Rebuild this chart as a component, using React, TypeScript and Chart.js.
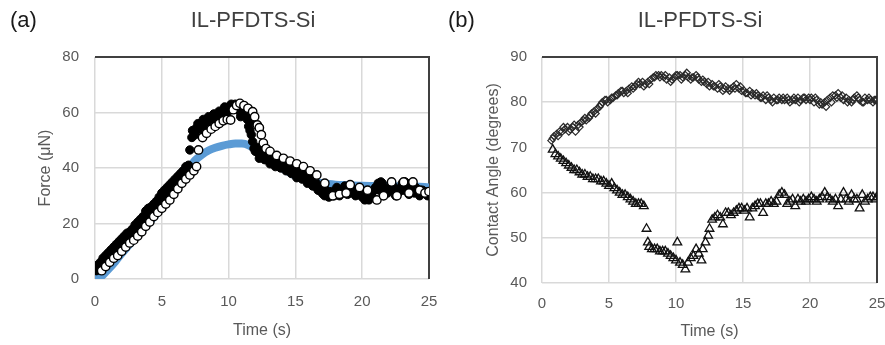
import React, { useEffect, useRef } from "react";
import { Chart, registerables } from "chart.js";

Chart.register(...registerables);

const FONT = '"Liberation Sans", Arial, Helvetica, sans-serif';
const TEXT_GREY = "#595959";
const GRID = "#d9d9d9";

// ---------- Panel (a): Force vs Time ----------
const timeTicks = [0, 5, 10, 15, 20, 25];

const modelTime = [0, 0.25, 0.5, 1, 1.5, 2, 2.5, 3, 3.5, 4, 4.5, 5, 5.5, 6, 6.5, 7, 7.5, 8, 8.5, 9, 9.5, 10, 10.5, 11, 11.5, 12, 12.5, 13, 13.5, 14, 14.5, 15, 15.5, 16, 16.5, 17, 17.5, 18, 19, 20, 21, 22, 23, 24, 25];
const modelForce = [0, 0.3, 1.0, 3.5, 6.2, 9.2, 12.0, 14.8, 17.5, 20.2, 22.9, 25.9, 29.0, 32.4, 36.0, 39.6, 42.8, 44.8, 46.3, 47.3, 48.0, 48.5, 48.8, 48.8, 48.2, 46.8, 45.0, 43.0, 41.5, 40.0, 38.5, 37.2, 36.3, 35.5, 35.0, 34.5, 34.2, 34.0, 33.8, 33.6, 33.5, 33.5, 33.3, 33.3, 33.0];

const filledTime = [
  0.1, 0.3, 0.5, 0.7, 0.9, 1.1, 1.3, 1.5, 1.7, 1.9, 2.1, 2.3, 2.5, 2.7, 2.9, 3.1, 3.3, 3.5, 3.7, 3.9, 4.1, 4.3, 4.5, 4.7, 4.9, 5.1, 5.3, 5.5, 5.7, 5.9, 6.1, 6.3, 6.5, 6.7, 6.9, 7.0,
  7.1, 7.25, 7.4, 7.6, 7.8, 8.0, 8.2, 8.4, 8.6, 8.8, 9.0, 9.2, 9.4, 9.6, 9.8, 10.0, 10.2, 10.4, 10.6, 10.8, 11.0, 11.2, 11.4, 11.5, 11.6, 11.7, 11.8, 11.9, 12.0, 12.2, 12.4, 12.6, 12.8, 13.0,
  13.2, 13.4, 13.6, 13.8, 14.0, 14.2, 14.4, 14.6, 14.8, 15.0, 15.2, 15.4, 15.6, 15.8, 16.0, 16.2, 16.4, 16.6, 16.8, 17.0, 17.2, 17.4, 17.6, 17.8, 18.0, 18.2, 18.4, 18.6, 18.8, 19.0,
  19.2, 19.4, 19.6, 19.8, 20.0, 20.2, 20.4, 20.6, 20.8, 21.0, 21.2, 21.4, 21.6, 21.8, 22.0, 22.2, 22.4, 22.6, 22.8, 23.0, 23.2, 23.4, 23.6, 23.8, 24.0, 24.2, 24.4, 24.6, 24.8, 25.0,
];
const filledForce = [
  3.0, 4.0, 5.0, 6.5, 7.5, 8.5, 9.5, 10.5, 11.5, 12.5, 13.5, 14.5, 15.5, 16.5, 17.5, 18.5, 19.5, 20.5, 22.5, 23.0, 24.0, 25.0, 26.5, 27.5, 28.5, 30.0, 31.0, 32.0, 33.0, 34.5, 35.5, 36.5, 37.5, 38.5, 40.0, 41.0,
  46.5, 51.0, 53.0, 54.5, 55.5, 56.0, 56.5, 57.0, 57.5, 58.0, 58.5, 59.0, 60.0, 60.5, 61.5, 62.0, 63.0, 62.5, 61.5, 60.5, 59.5, 59.0, 57.5, 55.0, 53.5, 52.0, 49.5, 47.0, 46.0, 45.5, 45.0, 44.0, 43.5, 43.0,
  42.5, 42.0, 41.5, 41.0, 41.0, 40.5, 40.0, 39.5, 39.0, 38.0, 37.5, 37.0, 36.5, 36.0, 35.5, 35.0, 34.0, 33.0, 32.0, 31.0, 30.0, 30.5, 30.0, 31.0, 31.5, 30.5, 32.0, 31.5, 31.0, 32.5,
  33.0, 31.5, 31.0, 30.5, 29.5, 28.5, 29.0, 30.5, 31.5, 33.0, 34.5, 35.0, 33.0, 31.5, 32.5, 34.0, 31.5, 31.0, 32.5, 34.5, 35.0, 33.0, 31.5, 32.0, 33.0, 32.0, 31.0, 31.5, 30.5, 31.0,
];
// second pass of filled points (the scatter that makes the black band thick)
const filledTime2 = [
  0.2, 0.4, 0.6, 0.8, 1.0, 1.2, 1.4, 1.6, 1.8, 2.0, 2.2, 2.4, 2.6, 2.8, 3.0, 3.2, 3.4, 3.6, 3.8, 4.0, 4.2, 4.4, 4.6, 4.8, 5.0, 5.2, 5.4, 5.6, 5.8, 6.0, 6.2, 6.4, 6.6, 6.8,
  7.3, 7.5, 7.7, 7.9, 8.1, 8.3, 8.5, 8.7, 8.9, 9.1, 9.3, 9.5, 9.7, 9.9, 10.1, 10.3, 10.5, 10.7, 10.9, 11.1, 11.3, 11.5, 11.7,
  12.1, 12.3, 12.5, 12.7, 12.9, 13.1, 13.3, 13.5, 13.7, 13.9, 14.1, 14.3, 14.5, 14.7, 14.9, 15.1, 15.3, 15.5, 15.7, 15.9, 16.1, 16.3, 16.5, 16.7, 16.9, 17.1, 17.3, 17.5, 17.7, 17.9,
  18.1, 18.3, 18.5, 18.7, 18.9, 19.1, 19.3, 19.5, 19.7, 19.9, 20.1, 20.3, 20.5, 20.7, 20.9, 21.1, 21.3, 21.5, 21.7, 21.9, 22.1, 22.3, 22.5, 22.7, 22.9, 23.1, 23.3, 23.5, 23.7, 23.9,
  24.1, 24.3, 24.5, 24.7, 24.9,
];
const filledForce2 = [
  5.0, 6.0, 7.5, 8.5, 9.5, 10.5, 11.5, 12.5, 13.5, 14.5, 15.5, 16.5, 17.0, 18.0, 19.5, 20.5, 21.5, 22.5, 24.5, 25.5, 26.0, 27.0, 28.0, 29.5, 31.0, 32.0, 33.0, 34.0, 35.0, 36.0, 37.0, 38.0, 39.0, 40.5,
  53.5, 52.0, 56.0, 54.0, 57.5, 55.5, 58.5, 56.5, 59.5, 57.5, 60.5, 59.0, 62.0, 60.0, 61.0, 61.5, 63.0, 62.0, 58.5, 60.5, 59.5, 58.5, 57.0,
  47.5, 43.5, 46.0, 43.0, 44.5, 41.5, 43.0, 40.5, 42.5, 40.0, 42.0, 39.0, 41.0, 38.0, 40.5, 36.5, 39.0, 36.0, 37.5, 34.5, 36.5, 33.5, 35.0, 32.0, 33.5, 30.5, 32.0, 29.5, 31.5, 30.0,
  33.0, 30.0, 31.0, 33.5, 30.5, 31.0, 32.0, 30.0, 32.5, 31.5, 30.0, 30.5, 28.5, 30.0, 32.0, 33.0, 32.0, 34.5, 30.5, 31.0, 32.5, 33.5, 30.0, 31.0, 33.0, 32.0, 34.5, 30.5, 33.5, 31.0,
  32.5, 30.0, 32.0, 31.5, 30.0,
];

const openTime = [
  0.5, 0.8, 1.1, 1.4, 1.7, 2.0, 2.3, 2.6, 2.9, 3.2, 3.5, 3.8, 4.1, 4.4, 4.7, 5.0, 5.3, 5.6, 5.9, 6.2, 6.5, 6.8, 7.1, 7.4, 7.6,
  7.75, 8.05, 8.35, 8.7, 9.0, 9.3, 9.6, 9.9, 10.15, 10.35, 10.6, 10.85, 11.15, 11.45, 11.8, 11.95, 12.15, 12.3, 12.45, 12.6, 12.8,
  13.1, 13.6, 14.1, 14.6, 15.1, 15.6, 16.1, 16.6, 17.2, 17.8, 18.3, 18.8, 19.1, 19.8, 20.4, 21.1, 21.6, 22.2, 22.6, 23.1, 23.5, 23.8, 24.3, 24.7, 25.0,
];
const openForce = [
  3.0, 4.5, 6.0, 7.5, 8.5, 10.0, 11.5, 13.0, 14.0, 15.5, 17.0, 19.0, 20.5, 22.5, 24.0, 25.5, 27.0, 28.5, 30.5, 32.5, 34.5, 36.0, 37.5, 39.0, 40.5,
  46.5, 51.0, 52.5, 54.0, 55.0, 56.0, 57.0, 57.5, 57.3, 61.0, 62.5, 63.3, 62.5, 61.5, 60.3, 58.5, 55.5, 54.5, 52.0, 49.0, 47.0,
  46.0, 44.5, 43.5, 42.5, 41.5, 40.5, 39.0, 37.5, 34.5, 30.0, 30.5, 31.0, 34.0, 33.0, 32.0, 28.5, 30.0, 35.0, 30.0, 35.0, 31.0, 35.0, 32.0, 31.0, 31.5,
];

// ---------- Panel (b): Contact angle vs Time ----------
const diamondTime = [
  0.7, 0.9, 1.1, 1.3, 1.5, 1.7, 1.9, 2.1, 2.3, 2.5, 2.7, 2.9, 3.1, 3.3, 3.5, 3.7, 3.9, 4.1, 4.3, 4.5, 4.7, 4.9, 5.1, 5.3, 5.5, 5.7, 5.9, 6.1, 6.3, 6.5, 6.7, 6.9, 7.1, 7.3, 7.5, 7.7, 7.9, 8.1, 8.3, 8.5, 8.7, 8.9,
  9.1, 9.3, 9.5, 9.7, 9.9, 10.1, 10.3, 10.5, 10.7, 10.9, 11.1, 11.3, 11.5, 11.7, 11.9, 12.1, 12.3, 12.5, 12.7, 12.9, 13.1, 13.3, 13.5, 13.7, 13.9, 14.1, 14.3, 14.5, 14.7, 14.9, 15.1, 15.3, 15.5, 15.7, 15.9,
  16.1, 16.3, 16.5, 16.7, 16.9, 17.1, 17.3, 17.5, 17.7, 17.9, 18.1, 18.3, 18.5, 18.7, 18.9, 19.1, 19.3, 19.5, 19.7, 19.9, 20.1, 20.3, 20.5, 20.7, 20.9, 21.1, 21.3, 21.5, 21.7, 21.9, 22.1, 22.3, 22.5,
  22.7, 22.9, 23.1, 23.3, 23.5, 23.7, 23.9, 24.1, 24.3, 24.5, 24.7, 24.9, 25.0,
];
const diamondAngle = [
  71.5, 72.5, 73.0, 73.5, 73.5, 74.0, 74.5, 74.0, 74.5, 73.5, 75.0, 75.5, 76.0, 76.0, 76.5, 77.5, 78.0, 78.5, 79.0, 80.0, 80.5, 80.0, 80.5, 81.0, 81.5, 82.0, 82.5, 82.0, 82.5, 83.0, 83.5, 83.5, 84.0, 84.0, 84.5, 84.0, 84.5, 85.0, 85.5, 86.0, 86.0, 86.0,
  85.5, 85.0, 85.5, 85.0, 85.5, 86.0, 86.0, 85.5, 86.0, 85.5, 85.0, 85.5, 86.0, 85.0, 84.5, 84.5, 84.0, 83.5, 84.0, 83.5, 83.0, 83.5, 82.5, 83.5, 83.0, 83.0, 83.5, 84.0, 83.0, 82.5, 82.5, 82.0, 82.5, 82.0, 81.5,
  81.5, 81.0, 81.5, 80.5, 81.0, 80.5, 81.0, 80.5, 81.0, 80.5, 80.5, 81.0, 80.0, 80.5, 80.5, 81.0, 80.5, 81.0, 80.5, 81.0, 81.0, 80.0, 80.5, 79.5, 79.5, 80.0, 80.5, 81.0, 81.5, 81.5, 82.0, 81.0, 80.5,
  81.0, 80.5, 80.0, 81.0, 81.5, 80.5, 80.0, 81.0, 80.5, 80.5, 80.0, 80.5, 80.5,
];
const diamondTime2 = [
  0.8, 1.2, 1.6, 2.0, 2.4, 2.8, 3.2, 3.6, 4.0, 4.4, 4.8, 5.2, 5.6, 6.0, 6.4, 6.8, 7.2, 7.6, 8.0, 8.4, 8.8, 9.2, 9.6, 10.0, 10.4, 10.8, 11.2, 11.6, 12.0, 12.4, 12.8,
  13.2, 13.6, 14.0, 14.4, 14.8, 15.2, 15.6, 16.0, 16.4, 16.8, 17.2, 17.6, 18.0, 18.4, 18.8, 19.2, 19.6, 20.0, 20.4, 20.8, 21.2, 21.6, 22.0, 22.4, 22.8, 23.2, 23.6, 24.0, 24.4, 24.8,
];
const diamondAngle2 = [
  72.0, 72.5, 74.5, 73.5, 75.0, 74.5, 76.5, 77.0, 77.5, 79.5, 80.5, 81.0, 81.5, 82.5, 82.0, 83.0, 84.5, 83.5, 84.0, 85.5, 85.5, 86.0, 84.5, 86.0, 85.0, 86.5, 85.5, 85.5, 85.0, 84.5, 83.5,
  84.0, 83.0, 82.5, 83.0, 83.5, 82.0, 81.5, 82.0, 81.0, 81.5, 80.0, 80.5, 81.0, 80.5, 81.0, 80.0, 81.0, 80.5, 81.0, 80.0, 79.0, 80.0, 81.0, 81.5, 80.0, 80.5, 81.0, 80.0, 81.0, 80.5,
];

const triangleTime = [
  0.8, 1.0, 1.2, 1.4, 1.6, 1.8, 2.0, 2.2, 2.4, 2.6, 2.8, 3.0, 3.2, 3.4, 3.6, 3.8, 4.0, 4.2, 4.4, 4.6, 4.8, 5.0, 5.2, 5.4, 5.6, 5.8, 6.0, 6.2, 6.4, 6.6, 6.8, 7.0, 7.2, 7.4, 7.6,
  7.8, 7.9, 8.0, 8.2, 8.4, 8.6, 8.8, 9.0, 9.2, 9.4, 9.6, 9.8, 10.0, 10.1, 10.3, 10.5, 10.7, 10.9, 11.1, 11.3, 11.5, 11.7, 11.9, 12.0, 12.2, 12.4, 12.5, 12.7, 12.9,
  13.1, 13.3, 13.5, 13.7, 13.9, 14.1, 14.3, 14.5, 14.7, 14.9, 15.1, 15.3, 15.5, 15.7, 15.9, 16.1, 16.3, 16.5, 16.7, 16.9, 17.1, 17.3, 17.5, 17.7, 17.9, 18.1, 18.3, 18.5, 18.7, 18.9,
  19.1, 19.3, 19.5, 19.7, 19.9, 20.1, 20.3, 20.5, 20.7, 20.9, 21.1, 21.3, 21.5, 21.7, 21.9, 22.1, 22.3, 22.5, 22.7, 22.9, 23.1, 23.3, 23.5, 23.7, 23.9, 24.1, 24.3, 24.5, 24.7, 24.9, 25.0,
];
const triangleAngle = [
  69.5, 68.5, 68.0, 67.5, 67.0, 66.5, 66.0, 65.5, 65.0, 65.0, 64.5, 64.0, 64.0, 63.5, 63.5, 63.0, 63.0, 63.0, 62.5, 62.5, 62.0, 61.5, 62.0, 61.0, 60.5, 60.0, 59.5, 59.5, 59.0, 58.5, 58.0, 57.5, 57.5, 57.5, 57.0,
  52.0, 49.0, 48.0, 47.5, 47.5, 47.5, 47.0, 47.0, 47.0, 46.5, 46.0, 45.5, 45.0, 49.0, 44.5, 44.0, 43.0, 44.5, 45.5, 46.0, 47.5, 46.5, 45.0, 47.5, 49.0, 50.5, 52.0, 54.0, 54.5,
  55.0, 54.5, 53.0, 55.5, 55.5, 55.0, 55.5, 56.0, 56.5, 56.5, 56.0, 56.5, 54.5, 56.5, 57.0, 57.5, 57.5, 55.5, 57.5, 57.5, 58.0, 57.5, 58.0, 59.5, 60.0, 59.5, 57.5, 58.0, 58.5, 57.0,
  58.5, 58.0, 58.5, 58.0, 58.5, 59.0, 58.5, 58.0, 58.5, 59.0, 60.0, 59.0, 58.5, 58.0, 58.5, 57.0, 58.5, 60.0, 58.5, 58.0, 59.5, 58.5, 58.5, 56.5, 59.5, 58.0, 58.5, 59.0, 59.0, 58.5, 59.0,
];

const zip = (xs: number[], ys: number[]) => xs.map((x, i) => ({ x, y: ys[i] }));

type PanelSpec = {
  left: number;
  width: number;
  letter: string;
  letterX: number;
  title: string;
  titleX: number;
  yTitle: string;
  yTitleCenter: number;
  yMin: number;
  yMax: number;
  yStep: number;
  axisWidth: number;
  xAxisHeight: number;
  rightPad: number;
  yTickPad: number;
  xTickPad: number;
  xTitlePad: number;
  datasets: any[];
};

function Panel({ spec }: { spec: PanelSpec }) {
  const ref = useRef<HTMLCanvasElement | null>(null);
  useEffect(() => {
    if (!ref.current) return;
    const framePlugin = {
      id: "frameAndTitles",
      beforeDatasetsDraw(chart: any) {
        const { ctx, chartArea: a } = chart;
        ctx.save();
        ctx.strokeStyle = "#404040";
        ctx.lineWidth = 2;
        ctx.beginPath();
        ctx.moveTo(a.left, a.top);
        ctx.lineTo(a.right, a.top);
        ctx.lineTo(a.right, a.bottom);
        ctx.stroke();
        ctx.restore();
      },
      afterDraw(chart: any) {
        const { ctx } = chart;
        ctx.save();
        ctx.font = `22px ${FONT}`;
        ctx.textBaseline = "alphabetic";
        ctx.textAlign = "left";
        ctx.fillStyle = "#1a1a1a";
        ctx.fillText(spec.letter, spec.letterX, 27);
        ctx.textAlign = "center";
        ctx.fillStyle = "#404040";
        ctx.fillText(spec.title, spec.titleX, 27);
        ctx.restore();
      },
    };
    const chart = new Chart(ref.current, {
      type: "scatter",
      data: { datasets: spec.datasets },
      options: {
        responsive: false,
        animation: false,
        layout: { padding: { left: 0, top: 57, right: spec.rightPad, bottom: 0 } },
        plugins: { legend: { display: false }, tooltip: { enabled: false }, title: { display: false } },
        scales: {
          x: {
            type: "linear",
            min: 0,
            max: 25,
            afterBuildTicks: (s: any) => {
              s.ticks = timeTicks.map((v) => ({ value: v }));
            },
            ticks: { padding: spec.xTickPad, color: TEXT_GREY, font: { family: FONT, size: 15 } },
            grid: { color: GRID, lineWidth: 1.5, drawTicks: false },
            border: { display: false },
            title: {
              display: true,
              text: "Time (s)",
              color: TEXT_GREY,
              font: { family: FONT, size: 16 },
              padding: { top: 0, bottom: spec.xTitlePad },
            },
            afterFit: (s: any) => {
              s.height = spec.xAxisHeight;
              s.paddingLeft = 0;
              s.paddingRight = 0;
            },
          },
          y: {
            type: "linear",
            min: spec.yMin,
            max: spec.yMax,
            ticks: { stepSize: spec.yStep, padding: spec.yTickPad, color: TEXT_GREY, font: { family: FONT, size: 15 } },
            grid: { color: GRID, lineWidth: 1.5, drawTicks: false },
            border: { display: false },
            title: {
              display: true,
              text: spec.yTitle,
              color: TEXT_GREY,
              font: { family: FONT, size: 16 },
              padding: { top: spec.yTitleCenter - 9.6, bottom: 0 },
            },
            afterFit: (s: any) => {
              s.width = spec.axisWidth;
              s.paddingTop = 0;
              s.paddingBottom = 0;
            },
          },
        },
      } as any,
      plugins: [framePlugin],
    });
    return () => chart.destroy();
  }, [spec]);
  return (
    <canvas
      ref={ref}
      width={spec.width}
      height={345}
      style={{ position: "absolute", left: spec.left, top: 0, width: spec.width, height: 345 }}
    />
  );
}

const panelA: PanelSpec = {
  left: 0,
  width: 442,
  letter: "(a)",
  letterX: 10,
  title: "IL-PFDTS-Si",
  titleX: 253,
  yTitle: "Force (\u03bcN)",
  yTitleCenter: 46,
  yMin: 0,
  yMax: 80,
  yStep: 20,
  axisWidth: 95,
  xAxisHeight: 66,
  rightPad: 13,
  yTickPad: 16,
  xTickPad: 14,
  xTitlePad: 5,
  datasets: [
    {
      label: "Open",
      data: zip(openTime, openForce),
      pointStyle: "circle",
      pointRadius: 4.2,
      backgroundColor: "#ffffff",
      borderColor: "#000000",
      borderWidth: 1.4,
      order: 0,
    },
    {
      label: "Filled",
      data: zip(filledTime, filledForce).concat(zip(filledTime2, filledForce2)),
      pointStyle: "circle",
      pointRadius: 4.2,
      backgroundColor: "#000000",
      borderColor: "#000000",
      borderWidth: 1,
      order: 1,
    },
    {
      label: "Model",
      type: "line",
      data: zip(modelTime, modelForce),
      showLine: true,
      borderColor: "#5b9bd5",
      backgroundColor: "#5b9bd5",
      borderWidth: 8,
      borderCapStyle: "round",
      borderJoinStyle: "round",
      pointRadius: 0,
      cubicInterpolationMode: "monotone",
      fill: false,
      order: 2,
    },
  ],
};

const panelB: PanelSpec = {
  left: 442,
  width: 443,
  letter: "(b)",
  letterX: 6,
  title: "IL-PFDTS-Si",
  titleX: 258,
  yTitle: "Contact Angle (degrees)",
  yTitleCenter: 52,
  yMin: 40,
  yMax: 90,
  yStep: 10,
  axisWidth: 100,
  xAxisHeight: 62,
  rightPad: 8,
  yTickPad: 15,
  xTickPad: 12,
  xTitlePad: 4,
  datasets: [
    {
      label: "Triangles",
      data: zip(triangleTime, triangleAngle),
      pointStyle: "triangle",
      pointRadius: 5,
      backgroundColor: "rgba(0,0,0,0)",
      borderColor: "#111111",
      borderWidth: 1.3,
      order: 0,
    },
    {
      label: "Diamonds",
      data: zip(diamondTime, diamondAngle).concat(zip(diamondTime2, diamondAngle2)),
      pointStyle: "rectRot",
      pointRadius: 3.6,
      backgroundColor: "rgba(0,0,0,0)",
      borderColor: "#2a2a2a",
      borderWidth: 1.2,
      order: 1,
    },
  ],
};

export default function App() {
  return (
    <div style={{ position: "fixed", left: 0, top: 0, width: 885, height: 345, background: "#ffffff" }}>
      <Panel spec={panelA} />
      <Panel spec={panelB} />
    </div>
  );
}
